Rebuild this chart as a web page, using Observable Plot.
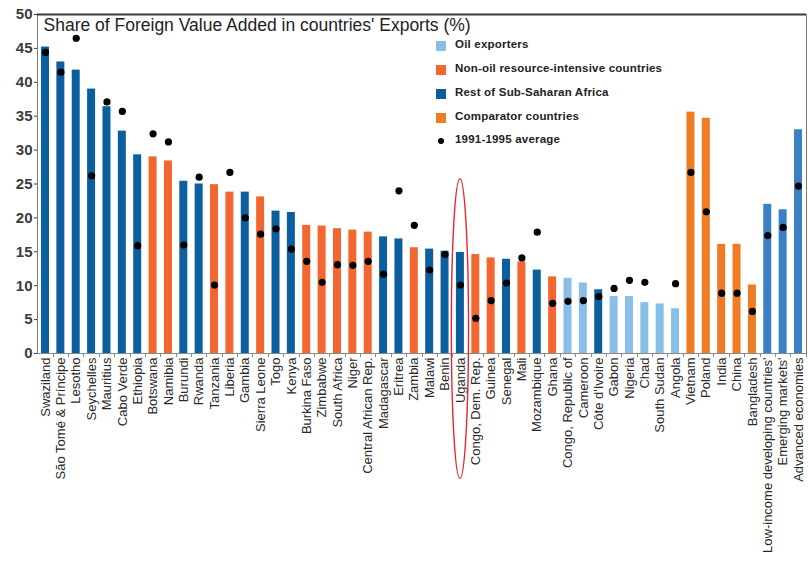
<!DOCTYPE html>
<html>
<head>
<meta charset="utf-8">
<script src="https://cdn.jsdelivr.net/npm/d3@7"></script>
<script src="https://cdn.jsdelivr.net/npm/@observablehq/plot@0.6"></script>
<style>
  html, body { margin: 0; padding: 0; background: #fff; overflow: hidden; }
  #wrap { position: relative; width: 808px; height: 573px; font-family: "Liberation Sans", Arial, sans-serif; }
  #wrap svg { display: block; max-width: none; }
  #legend { position: absolute; left: 436px; top: 38px; }
  .row { position: absolute; left: 0; height: 16px; white-space: nowrap; font-size: 11.5px; font-weight: bold; color: #222; }
  .sw { position: absolute; left: 0; top: 3px; width: 10px; height: 10px; }
  .dotsw { position: absolute; left: 2px; top: 5px; width: 6px; height: 6px; border-radius: 50%; background: #000; }
  .lab { position: absolute; left: 19px; top: 0px; letter-spacing: 0.2px; }
</style>
</head>
<body>
<div id="wrap"><div id="legend"></div></div>
<script>
// ---------- data ----------
const countries = [
  "Swaziland", "São Tomé & Príncipe", "Lesotho", "Seychelles", "Mauritius", "Cabo Verde",
  "Ethiopia", "Botswana", "Namibia", "Burundi", "Rwanda", "Tanzania", "Liberia", "Gambia",
  "Sierra Leone", "Togo", "Kenya", "Burkina Faso", "Zimbabwe", "South Africa", "Niger",
  "Central African Rep.", "Madagascar", "Eritrea", "Zambia", "Malawi", "Benin", "Uganda",
  "Congo, Dem. Rep.", "Guinea", "Senegal", "Mali", "Mozambique", "Ghana", "Congo, Republic of",
  "Cameroon", "Côte d'Ivoire", "Gabon", "Nigeria", "Chad", "South Sudan", "Angola",
  "Vietnam", "Poland", "India", "China", "Bangladesh",
  "Low-income developing countries'", "Emerging markets'", "Advanced economies"
];
const shares = [
  45.2, 43.0, 41.8, 39.0, 36.4, 32.8,
  29.3, 29.0, 28.4, 25.4, 25.0, 24.9, 23.8, 23.8,
  23.1, 21.0, 20.8, 18.9, 18.8, 18.4, 18.2,
  17.9, 17.2, 16.9, 15.6, 15.4, 15.1, 14.9,
  14.6, 14.1, 13.9, 13.5, 12.3, 11.3, 11.1,
  10.4, 9.4, 8.4, 8.4, 7.5, 7.3, 6.6,
  35.6, 34.7, 16.1, 16.1, 10.1,
  22.0, 21.2, 33.0
];
const avg9195 = [
  44.4, 41.5, 46.5, 26.2, 37.1, 35.7,
  15.9, 32.4, 31.2, 16.0, 26.0, 10.1, 26.7, 20.0,
  17.6, 18.4, 15.4, 13.6, 10.5, 13.1, 13.0,
  13.6, 11.7, 24.0, 18.9, 12.3, 14.6, 10.1,
  5.2, 7.8, 10.4, 14.1, 17.9, 7.4, 7.7,
  7.8, 8.4, 9.6, 10.8, 10.5, null, 10.3,
  26.7, 20.9, 8.9, 8.9, 6.2,
  17.4, 18.6, 24.7
];
// O = oil exporters, N = non-oil resource-intensive, S = rest of SSA, C = comparator, G = country groups
const groupCodes = [
  "S","S","S","S","S","S",
  "S","N","N","S","S","N","N","S",
  "N","S","S","N","N","N","N",
  "N","S","S","N","S","S","S",
  "N","N","S","N","S","N","O",
  "O","S","O","O","O","O","O",
  "C","C","C","C","C",
  "G","G","G"
];
const groupNames = {
  O: "Oil exporters",
  N: "Non-oil resource-intensive countries",
  S: "Rest of Sub-Saharan Africa",
  C: "Comparator countries",
  G: "Country groups"
};
const groupColors = {
  O: "#88bfe9",
  N: "#f2662f",
  S: "#0b5f9e",
  C: "#ef7b22",
  G: "#3b80c5"
};
const legendGroups = ["O", "N", "S", "C"];
const dotLabel = "1991-1995 average";
const yTicks = [0, 5, 10, 15, 20, 25, 30, 35, 40, 45, 50];
const title = "Share of Foreign Value Added in countries' Exports (%)";
const highlighted = "Uganda";

const rows = countries.map((c, i) => ({
  country: c, share: shares[i], avg: avg9195[i], group: groupCodes[i]
}));

// ---------- custom marks ----------
function boundaryTicks(index, scales, values, dims) {
  const x = scales.x;
  const bw = x.bandwidth ? x.bandwidth() : 8;
  const step = x.step ? x.step() : 15.4;
  const y0 = dims.height - dims.marginBottom;
  const g = d3.create("svg:g").attr("stroke", "#8a8a8a").attr("stroke-width", 1);
  for (const c of countries) {
    const xb = Math.round(x(c) + bw + (step - bw) / 2) + 0.5;
    g.append("line").attr("x1", xb).attr("x2", xb).attr("y1", y0).attr("y2", y0 + 4);
  }
  return g.node();
}
function ellipseMark(index, scales, values, dims) {
  const x = scales.x, y = scales.y;
  const bw = x.bandwidth ? x.bandwidth() : 8;
  const step = x.step ? x.step() : 15.4;
  const cx = x(highlighted) + bw / 2;
  const top = y(25.7), bottom = y(-18.5);
  return d3.create("svg:ellipse")
    .attr("cx", cx).attr("cy", (top + bottom) / 2)
    .attr("rx", step * 0.56).attr("ry", (bottom - top) / 2)
    .attr("fill", "none").attr("stroke", "#e8262e").attr("stroke-width", 1.4)
    .node();
}

// ---------- chart ----------
const chart = Plot.plot({
  width: 808,
  height: 573,
  marginLeft: 37,
  marginRight: 2,
  marginTop: 14,
  marginBottom: 220,
  style: { fontFamily: "'Liberation Sans', Arial, sans-serif", background: "transparent", overflow: "visible" },
  x: { domain: countries, paddingInner: 0.48, paddingOuter: 0.26, round: false, label: null },
  y: { domain: [0, 50], label: null },
  color: { domain: Object.keys(groupColors), range: Object.values(groupColors) },
  marks: [
    Plot.frame({ stroke: "#7a7a7a" }),
    Plot.ruleY([50], { stroke: "#3a3a3a", strokeWidth: 2 }),
    Plot.barY(rows, { x: "country", y: "share", fill: "group" }),
    Plot.dot(rows.filter(d => d.avg != null), { x: "country", y: "avg", r: 3.6, fill: "#000", stroke: "none" }),
    Plot.axisY({ ticks: yTicks, tickSize: 3, tickPadding: 2, fontSize: 15, fontWeight: "bold", color: "#3c3c3c", label: null }),
    Plot.axisX({ tickSize: 0, tickPadding: 4, tickRotate: -90, fontSize: 13, color: "#2a2a2a", label: null }),
    Plot.ruleY([0], { stroke: "#8a8a8a" }),
    boundaryTicks,
    Plot.text([title], { frameAnchor: "top-left", dx: 6, dy: 4, fontSize: 17.5, fill: "#222", textAnchor: "start", lineAnchor: "top" }),
    ellipseMark
  ]
});
const wrap = document.getElementById("wrap");
wrap.insertBefore(chart, wrap.firstChild);

// ---------- legend ----------
const legend = document.getElementById("legend");
legendGroups.forEach((g, i) => {
  const r = document.createElement("div");
  r.className = "row";
  r.style.top = (i * 24) + "px";
  r.innerHTML = `<span class="sw" style="background:${groupColors[g]}"></span><span class="lab">${groupNames[g]}</span>`;
  legend.appendChild(r);
});
const r = document.createElement("div");
r.className = "row";
r.style.top = (legendGroups.length * 24 - 1) + "px";
r.innerHTML = `<span class="dotsw"></span><span class="lab">${dotLabel}</span>`;
legend.appendChild(r);
</script>
</body>
</html>
